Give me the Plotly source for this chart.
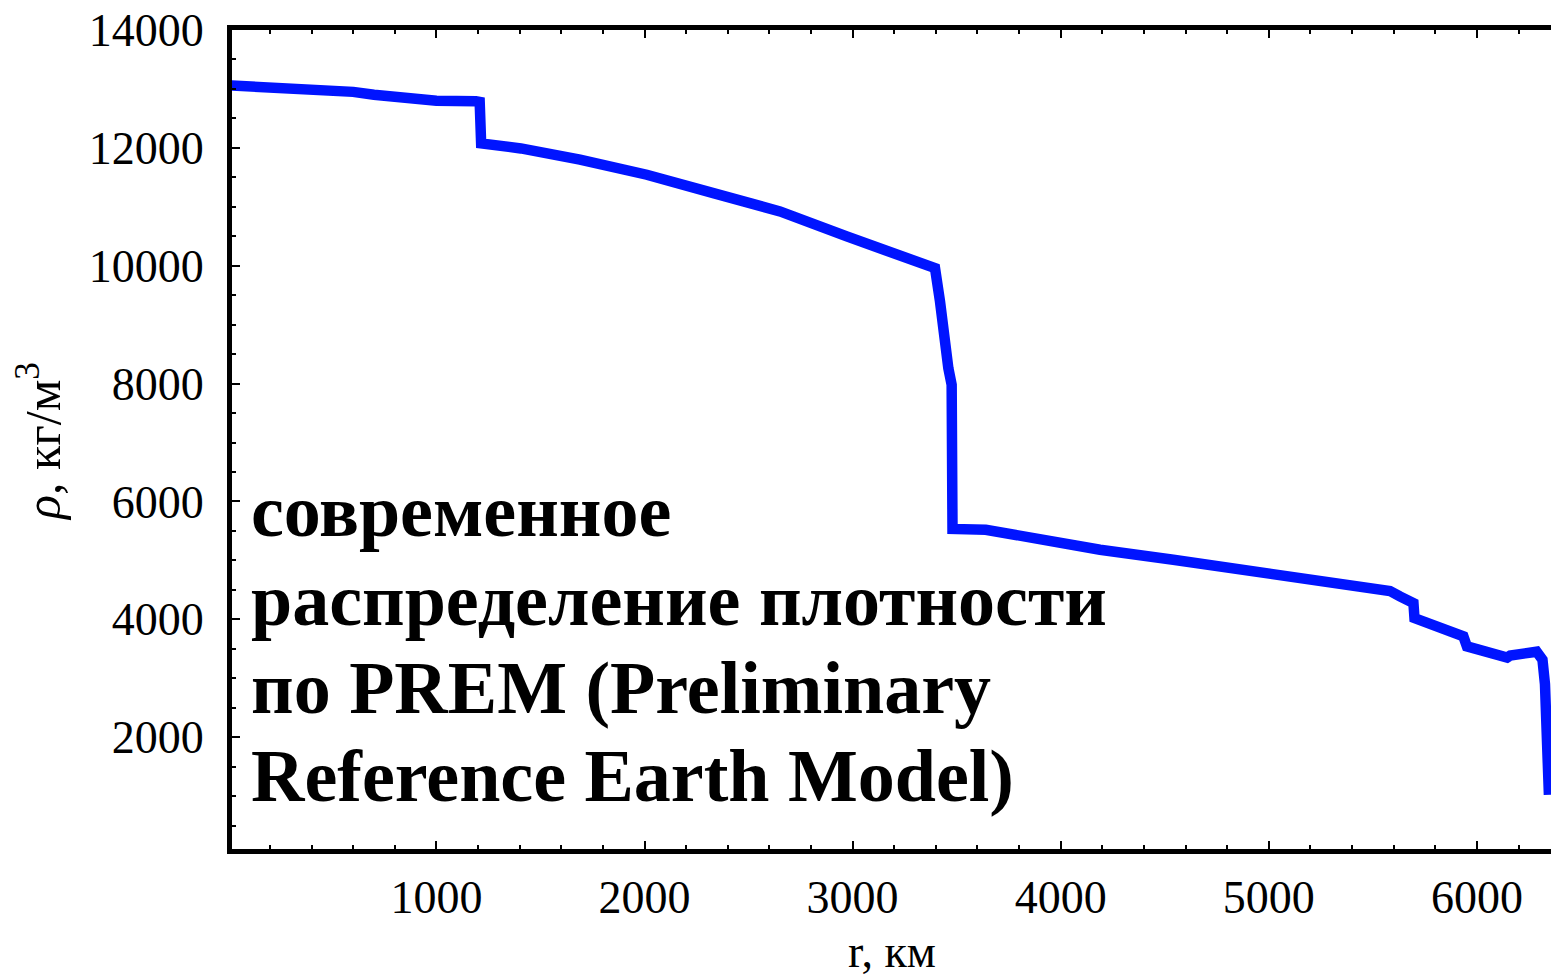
import plotly.graph_objects as go

# PREM density profile (radius km, density kg/m^3)
radius_km = [0, 190, 400, 600, 700, 800, 880, 1000, 1190, 1208, 1215,
             1406, 1690, 2011, 2331, 2651, 2972, 3212, 3356, 3396,
             3420, 3436, 3460, 3476, 3480, 3640, 3900, 4189, 4541, 5021,
             5582, 5630, 5695, 5700, 5762, 5855, 5935, 5952, 6015, 6127,
             6145, 6160, 6207, 6287, 6315, 6327, 6346]
density = [13060, 13030, 12985, 12950, 12900, 12860, 12820, 12800, 12790, 12780, 12075,
           11990, 11800, 11544, 11232, 10921, 10497, 10187, 10017, 9959,
           9393, 8829, 8262, 7980, 5534, 5520, 5350, 5181, 5011, 4784,
           4480, 4388, 4275, 4020, 3935, 3823, 3710, 3540, 3484, 3400,
           3350, 3385, 3400, 3450, 3314, 2900, 1020]

x_ticks = [1000, 2000, 3000, 4000, 5000, 6000]
x_tick_text = ["1000", "2000", "3000", "4000", "5000", "6000"]
y_ticks = [2000, 4000, 6000, 8000, 10000, 12000, 14000]
y_tick_text = ["2000", "4000", "6000", "8000", "10000", "12000", "14000"]

label_lines = ["современное", "распределение плотности",
               "по PREM (Preliminary", "Reference Earth Model)"]
label_y = [5831, 4331, 2832, 1334]

FONT = "Liberation Serif"

fig = go.Figure()
fig.add_trace(go.Scatter(x=radius_km, y=density, mode="lines",
                         line=dict(color="rgb(0,20,255)", width=10.5),
                         showlegend=False, hoverinfo="skip"))

for txt, yy in zip(label_lines, label_y):
    fig.add_annotation(x=100, y=yy, xref="x", yref="y", text="<b>" + txt + "</b>",
                       showarrow=False, xanchor="left", yanchor="middle",
                       font=dict(family=FONT, size=74, color="black"))

# axis titles
fig.add_annotation(x=0.5, y=(849 - 951) / 819, xref="paper", yref="paper",
                   text="r, км", showarrow=False, xanchor="center", yanchor="middle",
                   font=dict(family=FONT, size=46, color="black"))
fig.add_annotation(x=(39 - 232) / 1319, y=(849 - 442) / 819, xref="paper", yref="paper",
                   text="<i>ρ</i>, кг/м<sup>3</sup>", showarrow=False, textangle=-90,
                   xanchor="center", yanchor="middle",
                   font=dict(family=FONT, size=50, color="black"))

axis_common = dict(showline=True, linewidth=5, linecolor="black", showgrid=False,
                   zeroline=False, ticks="inside", ticklen=8, tickwidth=2,
                   tickcolor="black",
                   tickfont=dict(family=FONT, size=46, color="black"))

fig.update_xaxes(range=[17.8, 6356], tickvals=x_ticks, ticktext=x_tick_text, mirror="ticks",
                 minor=dict(dtick=200, ticks="inside", ticklen=4, tickwidth=2,
                            tickcolor="black", showgrid=False),
                 ticklabelstandoff=4, **axis_common)
fig.update_yaxes(range=[102, 14000], tickvals=y_ticks, ticktext=y_tick_text,
                 minor=dict(dtick=500, ticks="inside", ticklen=4, tickwidth=2,
                            tickcolor="black", showgrid=False),
                 ticklabelstandoff=14, **axis_common)

fig.update_layout(width=1551, height=978, plot_bgcolor="white", paper_bgcolor="white",
                  margin=dict(l=232, r=0, t=30, b=129, autoexpand=False),
                  font=dict(family=FONT, color="black"))

fig.write_html("out.html")
